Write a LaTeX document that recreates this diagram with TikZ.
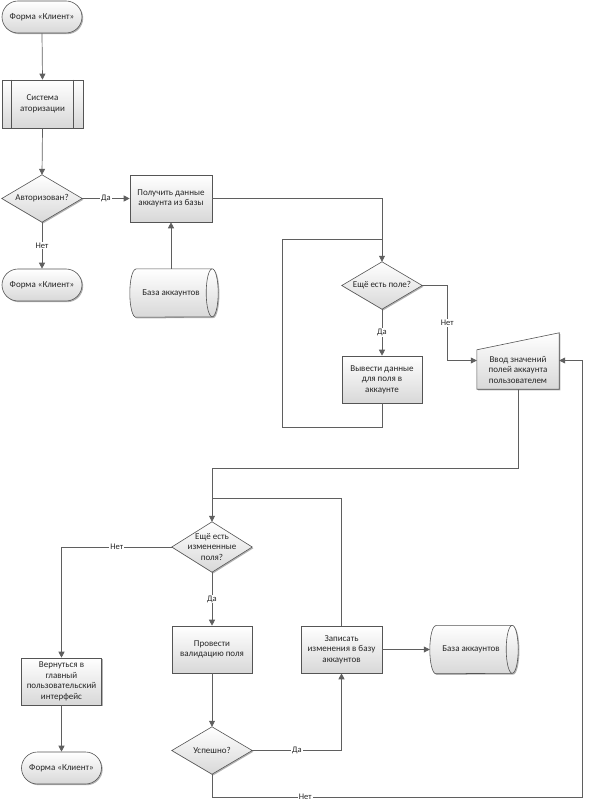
\documentclass[tikz,border=0pt]{standalone}
\usepackage{fontspec}
\setmainfont{Carlito}
\usetikzlibrary{arrows.meta,shadows,backgrounds,calc}
\definecolor{bcol}{RGB}{85,85,85}
\definecolor{lcol}{RGB}{95,95,95}
\definecolor{gbot}{RGB}{216,216,216}
\begin{document}
\begin{tikzpicture}[x=1pt,y=1pt,
  font=\fontsize{9}{10.5}\selectfont,
  shape fill/.style={draw=bcol, line width=0.6pt, top color=white, bottom color=gbot,
    drop shadow={shadow xshift=1.2pt,shadow yshift=-1.2pt,opacity=0.3,fill=black}},
  txt/.style={align=center, inner sep=1pt, text=black!85},
  term/.style={shape fill, txt, rounded corners=16pt, minimum width=80pt, minimum height=32pt},
  proc/.style={shape fill, txt, minimum width=80pt, minimum height=47pt},
  dec/.style={txt, minimum width=80pt, minimum height=47pt},
  cyl/.style={txt, minimum width=88pt, minimum height=48pt},
  line/.style={draw=lcol, line width=0.7pt},
  arr/.style={line, -{Triangle[length=6pt,width=6pt]}},
  lbl/.style={fill=white, inner sep=1pt, font=\fontsize{8.5}{10}\selectfont, text=black!85}
]
\useasboundingbox (0,0) rectangle (594,-810);

% nodes
\node[term] (t1) at (42,-17) {Форма «Клиент»};
\node[proc, minimum width=81pt, minimum height=48pt] (sub) at (42.5,-104) {Система\\аторизации};
\draw[bcol, line width=0.6pt] ([xshift=10pt]sub.north west) -- ([xshift=10pt]sub.south west)
  ([xshift=-10pt]sub.north east) -- ([xshift=-10pt]sub.south east);
\node[dec] (d1) at (42,-198.5) {Авторизован?};
\node[proc, minimum width=82pt] (p1) at (171,-198.5) {Получить данные\\аккаунта из базы};
\node[term] (t2) at (42,-285) {Форма «Клиент»};
\node[cyl] (db1) at (174,-293) {База аккаунтов\hspace*{6pt}};
\node[dec] (d2) at (382,-285.5) {Ещё есть поле?};
\node[proc] (p2) at (382,-379.5) {Вывести данные\\для поля в\\аккаунте};
\node[txt, minimum width=82pt, minimum height=39pt] (inp) at (518,-369.5) {Ввод значений\\полей аккаунта\\пользователем};
\node[dec, minimum height=50pt] (d3) at (212,-547) {Ещё есть\\измененные\\поля?};
\node[proc] (p3) at (61.5,-681.5) {Вернуться в\\главный\\пользовательский\\интерфейс};
\node[term] (t3) at (61.5,-768) {Форма «Клиент»};
\node[proc] (p4) at (212,-649.5) {Провести\\валидацию поля};
\node[dec] (d4) at (212,-750.5) {Успешно?};
\node[proc, minimum width=81pt] (p5) at (341.5,-649.5) {Записать\\изменения в базу\\аккаунтов};
\node[cyl] (db2) at (474,-649.5) {База аккаунтов\hspace*{6pt}};

% custom shapes
\begin{scope}[on background layer]
  \foreach \d in {d1,d2,d3,d4}
    \path[shape fill] (\d.north) -- (\d.east) -- (\d.south) -- (\d.west) -- cycle;
  \path[shape fill] (inp.south west) -- (inp.north west) -- ([yshift=17pt]inp.north east) -- (inp.south east) -- cycle;
  \foreach \c in {db1,db2} {
    \path[shape fill] ([xshift=6pt]\c.north west) -- ([xshift=-6pt]\c.north east)
      arc[start angle=90,end angle=-90,x radius=6pt,y radius=24pt]
      -- ([xshift=6pt]\c.south west)
      arc[start angle=270,end angle=90,x radius=6pt,y radius=24pt] -- cycle;
    \draw[bcol, line width=0.6pt] ([xshift=-6pt]\c.north east)
      arc[start angle=90,end angle=270,x radius=6pt,y radius=24pt];
  }
\end{scope}

% connectors
\draw[arr] (t1.south) -- (sub.north);
\draw[arr] (sub.south) -- (d1.north);
\draw[arr] (d1.east) -- node[lbl]{Да} (p1.west);
\draw[arr] (d1.south) -- node[lbl]{Нет} (t2.north);
\draw[arr] (p1.south |- db1.north) -- (p1.south);
\draw[arr] (p1.east) -| (d2.north);
\coordinate (lp) at (282,-239);
\draw[line] (p2.south) -- ++(0,-24) -| (lp) -- (lp -| d2.north);
\draw[arr] (d2.south) -- node[lbl]{Да} (p2.north);
\draw[arr] (d2.east) -- ++(25,0) |- node[lbl,pos=0.25]{Нет} ([yshift=9pt]inp.west);
\draw[arr] (inp.south) -- ++(0,-79) -| (d3.north);
\coordinate (j2) at (212,-498);
\draw[line] (p5.north) |- (j2);
\draw[arr] (d3.west) -| node[lbl,pos=0.25]{Нет} (p3.north);
\draw[arr] (d3.south) -- node[lbl]{Да} (p4.north);
\draw[arr] (p4.south) -- (d4.north);
\draw[arr] (d4.east) -| node[lbl,pos=0.25]{Да} (p5.south);
\draw[arr] (p5.east) -- (db2.west);
\draw[arr] (p3.south) -- (t3.north);
\coordinate (c1) at (582,-797);
\draw[arr] (d4.south) |- node[lbl,pos=0.626]{Нет} (c1) |- ([yshift=9pt]inp.east);
\end{tikzpicture}
\end{document}
